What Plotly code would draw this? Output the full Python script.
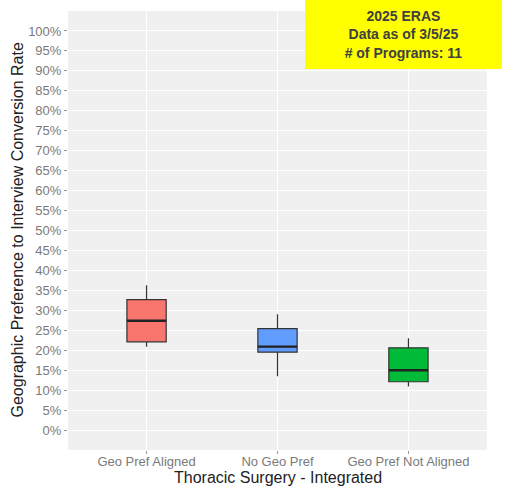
import plotly.graph_objects as go

categories = ["Geo Pref Aligned", "No Geo Pref", "Geo Pref Not Aligned"]
lower_whisker = [0.209, 0.135, 0.109]
q1 = [0.221, 0.195, 0.121]
median = [0.274, 0.209, 0.150]
q3 = [0.327, 0.254, 0.206]
upper_whisker = [0.363, 0.290, 0.230]
fill_colors = ["#F8766D", "#619CFF", "#00BA38"]
y_ticks = [i / 100 for i in range(0, 101, 5)]
y_tick_labels = [f"{i}%" for i in range(0, 101, 5)]

BOX_W = 0.3
fig = go.Figure()
for i, cat in enumerate(categories):
    xpos = i + 1
    fig.add_trace(go.Box(
        x=[xpos], q1=[q1[i]], median=[median[i]], q3=[q3[i]],
        lowerfence=[lower_whisker[i]], upperfence=[upper_whisker[i]],
        width=BOX_W, fillcolor=fill_colors[i],
        line=dict(color="#333333", width=1.2),
        whiskerwidth=0, showlegend=False, hoverinfo="skip",
    ))
    fig.add_trace(go.Scatter(
        x=[xpos - BOX_W / 2, xpos + BOX_W / 2], y=[median[i], median[i]],
        mode="lines", line=dict(color="#222222", width=2.4),
        showlegend=False, hoverinfo="skip",
    ))

L, R, T, B, W, H = 68, 18, 11, 38, 505, 488
PW, PH = W - L - R, H - T - B

fig.update_layout(
    width=W, height=H,
    margin=dict(l=L, r=R, t=T, b=B),
    paper_bgcolor="white", plot_bgcolor="#F0F0F0",
    font=dict(family="Liberation Sans, Arial, sans-serif"),
    boxmode="overlay",
    xaxis=dict(
        range=[0.4, 3.6], tickvals=[1, 2, 3], ticktext=categories,
        showgrid=True, gridcolor="white", gridwidth=1.2, zeroline=False,
        ticks="outside", ticklen=3, tickcolor="#999999", automargin=False,
        ticklabelstandoff=-4,
        tickfont=dict(size=13, color="#7a7a7a"),
    ),
    yaxis=dict(
        range=[-0.05, 1.05], tickvals=y_ticks, ticktext=y_tick_labels,
        showgrid=True, gridcolor="white", gridwidth=1.2, zeroline=False,
        ticks="outside", ticklen=3, tickcolor="#999999", automargin=False,
        tickfont=dict(size=13, color="#7a7a7a"),
    ),
    annotations=[
        dict(
            xref="paper", yref="paper", x=(403.5 - L) / PW, y=(H - B - 34.5) / PH,
            xanchor="center", yanchor="middle",
            text="<b>2025 ERAS</b><br><b>Data as of 3/5/25</b><br><b># of Programs: 11</b>",
            showarrow=False, align="center", bgcolor="#FFFF00",
            width=197, height=69, borderpad=0, borderwidth=0,
            font=dict(size=14, color="#404040", family="Liberation Sans, Arial, sans-serif"),
        ),
        dict(
            xref="paper", yref="paper", x=0.5, y=(H - B - 477.5) / PH,
            xanchor="center", yanchor="middle", showarrow=False,
            text="Thoracic Surgery - Integrated",
            font=dict(size=16, color="#222222"),
        ),
        dict(
            xref="paper", yref="paper", x=(17 - L) / PW, y=0.5,
            xanchor="center", yanchor="middle", showarrow=False, textangle=-90,
            text="Geographic Preference to Interview Conversion Rate",
            font=dict(size=16, color="#222222"),
        ),
    ],
)

fig.write_html("out.html", config={"displayModeBar": False},
               post_script="document.body.style.margin='0';")
